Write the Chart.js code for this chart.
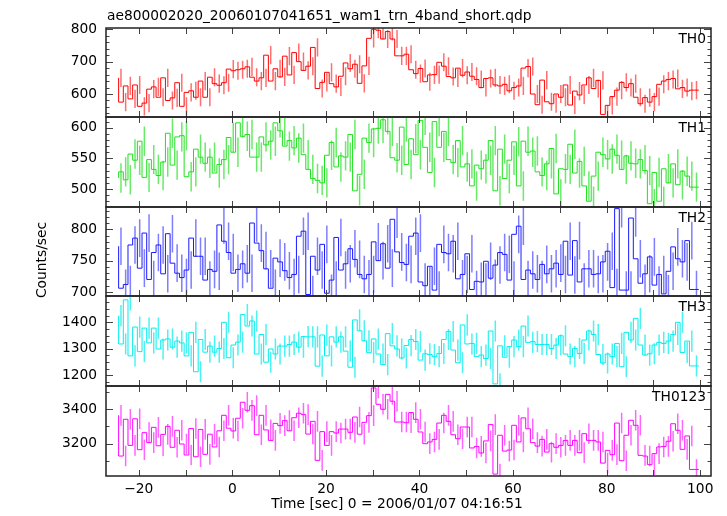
<!DOCTYPE html>
<html>
<head>
<meta charset="utf-8">
<script src="https://cdn.jsdelivr.net/npm/chart.js@4.4.1/dist/chart.umd.min.js"></script>
<style>
  body { margin: 0; background: #fff; }
  #wrap { position: relative; width: 727px; height: 516px; }
  #wrap canvas { position: absolute; left: 0; top: 0; }
</style>
</head>
<body>
<div id="wrap">
  <canvas id="p0" width="727" height="516"></canvas>
  <canvas id="p1" width="727" height="516"></canvas>
  <canvas id="p2" width="727" height="516"></canvas>
  <canvas id="p3" width="727" height="516"></canvas>
  <canvas id="p4" width="727" height="516"></canvas>
</div>
<script>
// time bins (1 s wide)
const binStart = -24.3;
const binWidth = 1.0;

// count rates per band
const th0 = [650,575,625,585,628,562,572,615,622,590, 650,580,588,635,562,605,610,590,640,590,
  652,632,627,635,677,672,675,678,684,652, 640,650,720,640,678,653,717,659,728,700,
  673,686,744,617,636,667,632,622,655,696, 678,692,633,687,772,800,797,770,793,770,
  718,718,723,675,663,679,638,659,660,698, 686,654,650,680,658,668,655,645,620,648,
  650,628,625,630,610,620,625,680,685,600, 567,643,576,570,600,590,628,566,609,597,
  628,650,617,642,537,565,592,612,636,620, 632,590,570,589,575,592,630,640,645,648,
  616,620,609,612];
const th1 = [518,528,515,557,547,578,519,548,532,522, 544,591,539,585,587,520,528,565,552,542,
  552,526,540,548,584,560,608,586,589,552, 552,585,572,578,608,595,570,579,567,583,
  556,532,517,514,510,555,576,536,554,552, 589,497,524,583,576,598,599,613,594,551,
  547,601,540,582,556,612,568,527,610,568, 594,548,543,579,536,541,505,539,533,547,
  579,497,565,517,547,577,505,578,560,562, 528,522,541,566,492,533,532,573,526,545,
  505,480,521,560,556,549,565,555,532,554, 542,541,548,530,476,527,480,533,510,541,
  507,529,521,503];
const th2 = [773,706,712,775,786,738,794,720,763,775, 729,793,746,730,723,735,786,757,757,719,
  736,733,807,781,763,730,736,745,730,810, 778,766,737,706,754,748,734,723,728,789,
  797,696,757,735,776,698,719,787,735,745, 769,752,728,721,728,780,750,777,738,816,
  764,747,744,789,794,716,710,741,703,776, 763,761,781,721,728,761,704,717,716,749,
  722,743,763,760,719,792,805,720,735,729, 720,744,729,737,746,728,781,727,782,716,
  737,737,728,729,748,765,707,833,703,703, 818,753,714,729,756,711,728,697,733,772,
  753,748,782,704];
const th3 = [1425,1318,1485,1273,1382,1289,1378,1322,1378,1299, 1333,1337,1306,1329,1322,1273,1362,1213,1335,1287,
  1310,1287,1301,1400,1266,1314,1325,1429,1386,1405, 1280,1354,1249,1299,1280,1310,1310,1316,1325,1306,
  1346,1345,1345,1234,1352,1273,1345,1325,1345,1291, 1230,1409,1368,1330,1285,1337,1280,1240,1357,1311,
  1299,1265,1312,1335,1327,1257,1281,1278,1270,1282, 1335,1365,1295,1247,1390,1318,1320,1270,1276,1263,
  1367,1167,1311,1268,1308,1333,1308,1386,1324,1327, 1316,1316,1316,1301,1314,1349,1280,1270,1301,1282,
  1333,1367,1354,1278,1246,1280,1270,1320,1232,1362, 1333,1415,1314,1276,1281,1314,1324,1320,1329,1354,
  1400,1286,1329,1235];
const th0123 = [3365,3128,3342,3190,3345,3165,3264,3206,3295,3188, 3254,3301,3179,3278,3198,3134,3288,3124,3283,3138,
  3255,3181,3275,3365,3290,3274,3348,3441,3394,3421, 3252,3365,3280,3219,3318,3305,3334,3275,3351,3377,
  3369,3256,3330,3103,3270,3190,3270,3262,3285,3285, 3266,3355,3255,3324,3363,3524,3429,3400,3487,3447,
  3326,3326,3322,3381,3342,3268,3200,3210,3225,3320, 3365,3330,3252,3229,3297,3297,3175,3184,3146,3216,
  3311,3023,3249,3157,3163,3307,3210,3350,3287,3206, 3186,3225,3151,3200,3179,3190,3219,3190,3219,3148,
  3258,3219,3219,3210,3087,3161,3136,3320,3101,3249, 3336,3307,3132,3128,3078,3142,3181,3184,3214,3316,
  3278,3167,3245,3050];

// error bar half sizes per band
const errs = [28, 24, 30, 40, 60];

const bandNames = ['TH0', 'TH1', 'TH2', 'TH3', 'TH0123'];
const bandValues = [th0, th1, th2, th3, th0123];
const yMin = [529, 470.6, 693.6, 1159, 3012];
const yMax = [804, 617.5, 835.6, 1499.5, 3535.5];
const yStep = [100, 50, 50, 100, 200];
const yMinorStep = [20, 10, 10, 25, 100];
const xMin = -27, xMax = 102.3;

const lineColors = ['#ff0000', '#1ee01e', '#1a1aff', '#00eeee', '#ff00ff'];
const errColors = ['rgba(255,50,50,0.7)', 'rgba(40,225,40,0.7)', 'rgba(40,40,255,0.6)', 'rgba(0,235,235,0.7)', 'rgba(255,0,255,0.6)'];

const panelTops = [28, 117, 207, 296, 386];
const panelBottoms = [117, 207, 296, 386, 476];

const font = "'DejaVu Sans', sans-serif";
const fontSize = 13.8;

function toSteps(vals) {
  const pts = vals.map((v, i) => ({ x: binStart + i * binWidth, y: v }));
  pts.push({ x: binStart + vals.length * binWidth, y: vals[vals.length - 1] });
  return pts;
}

// error bars, frame, inward ticks and the texts
const decor = {
  id: 'decor',
  beforeDatasetsDraw(chart, args, o) {
    const { ctx, chartArea: a, scales: { x, y } } = chart;
    const pts = chart.data.datasets[0].data;
    ctx.save();
    ctx.beginPath();
    ctx.rect(a.left, a.top, a.right - a.left, a.bottom - a.top);
    ctx.clip();
    ctx.strokeStyle = o.errColor;
    ctx.lineWidth = 1.5;
    ctx.beginPath();
    for (let i = 0; i < pts.length - 1; i++) {
      const px = x.getPixelForValue((pts[i].x + pts[i + 1].x) / 2);
      ctx.moveTo(px, y.getPixelForValue(pts[i].y + o.err));
      ctx.lineTo(px, y.getPixelForValue(pts[i].y - o.err));
    }
    ctx.stroke();
    ctx.restore();
  },
  afterDraw(chart, args, o) {
    const { ctx, chartArea: a, scales: { x, y } } = chart;
    ctx.save();
    ctx.strokeStyle = '#444';
    ctx.lineWidth = 1;
    ctx.beginPath();
    for (let v = Math.ceil(x.min / 10) * 10; v <= x.max; v += 10) {
      const px = Math.round(x.getPixelForValue(v)) + 0.5;
      ctx.moveTo(px, a.top); ctx.lineTo(px, a.top + 6);
      ctx.moveTo(px, a.bottom); ctx.lineTo(px, a.bottom - 6);
    }
    for (let v = Math.ceil(y.min / o.minor) * o.minor; v <= y.max; v += o.minor) {
      const len = Math.abs(v % o.major) < 1e-6 ? 7 : 3.5;
      const py = Math.round(y.getPixelForValue(v)) + 0.5;
      ctx.moveTo(a.left, py); ctx.lineTo(a.left + len, py);
      ctx.moveTo(a.right, py); ctx.lineTo(a.right - len, py);
    }
    ctx.stroke();
    ctx.strokeStyle = '#222';
    ctx.lineWidth = 1.5;
    ctx.strokeRect(a.left, a.top, a.right - a.left, a.bottom - a.top);

    ctx.fillStyle = '#000';
    ctx.font = fontSize + 'px ' + font;
    ctx.textAlign = 'right';
    ctx.textBaseline = 'alphabetic';
    ctx.fillText(o.label, a.right - 5, a.top + 15);
    if (o.mainTitle) {
      ctx.textAlign = 'left';
      ctx.fillText(o.mainTitle, 107, 20);
    }
    if (o.yTitle) {
      ctx.save();
      ctx.translate(45.5, 260);
      ctx.rotate(-Math.PI / 2);
      ctx.textAlign = 'center';
      ctx.fillText(o.yTitle, 0, 0);
      ctx.restore();
    }
    if (o.xTitle) {
      ctx.textAlign = 'center';
      ctx.fillText(o.xTitle, 397, 508);
    }
    ctx.restore();
  }
};

function makePanel(k) {
  const last = k === 4;
  const pluginOpts = {
    err: errs[k],
    errColor: errColors[k],
    minor: yMinorStep[k],
    major: yStep[k],
    label: bandNames[k]
  };
  if (k === 0) pluginOpts.mainTitle = 'ae800002020_20060107041651_wam1_trn_4band_short.qdp';
  if (k === 2) pluginOpts.yTitle = 'Counts/sec';
  if (k === 4) pluginOpts.xTitle = 'Time [sec] 0 = 2006/01/07 04:16:51';

  const xScale = {
    type: 'linear',
    min: xMin,
    max: xMax,
    display: last,
    grid: { display: false, drawTicks: false },
    border: { display: false },
    ticks: {
      stepSize: 10,
      includeBounds: false,
      autoSkip: false,
      maxRotation: 0,
      padding: 5,
      color: '#000',
      font: { family: font, size: fontSize },
      callback: v => (v % 20 === 0 ? (v < 0 ? '\u2212' + Math.abs(v) : String(v)) : '')
    }
  };
  if (last) xScale.afterFit = s => { s.height = 40; };

  return new Chart(document.getElementById('p' + k), {
    type: 'line',
    data: {
      datasets: [{
        data: toSteps(bandValues[k]),
        stepped: 'after',
        borderColor: lineColors[k],
        borderWidth: 1,
        pointRadius: 0,
        fill: false
      }]
    },
    plugins: [decor],
    options: {
      responsive: false,
      animation: false,
      devicePixelRatio: 1,
      layout: {
        padding: { left: 31, right: 16, top: panelTops[k], bottom: last ? 0 : 516 - panelBottoms[k] }
      },
      plugins: {
        legend: { display: false },
        tooltip: { enabled: false },
        decor: pluginOpts
      },
      scales: {
        x: xScale,
        y: {
          type: 'linear',
          min: yMin[k],
          max: yMax[k],
          grid: { display: false, drawTicks: false },
          border: { display: false },
          afterFit: s => { s.width = 75; },
          ticks: {
            stepSize: yStep[k],
            includeBounds: false,
            padding: 9,
            color: '#000',
            font: { family: font, size: fontSize },
            callback: v => String(v)
          }
        }
      }
    }
  });
}

bandValues.forEach((_, k) => makePanel(k));
</script>
</body>
</html>
